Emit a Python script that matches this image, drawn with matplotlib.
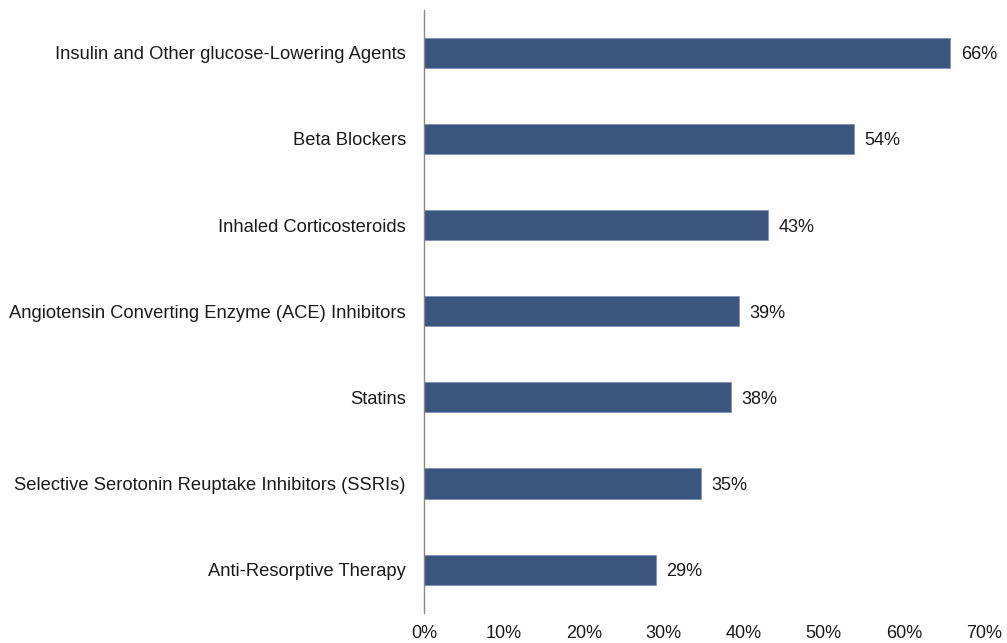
import matplotlib.pyplot as plt
from matplotlib.ticker import FuncFormatter

plt.rcParams['font.family'] = ['Liberation Sans', 'DejaVu Sans']

categories = ["Insulin and Other glucose-Lowering Agents",
              "Beta Blockers",
              "Inhaled Corticosteroids",
              "Angiotensin Converting Enzyme (ACE) Inhibitors",
              "Statins",
              "Selective Serotonin Reuptake Inhibitors (SSRIs)",
              "Anti-Resorptive Therapy"]
values = [65.8, 53.8, 43.0, 39.4, 38.4, 34.6, 29.0]
value_labels = ["66%", "54%", "43%", "39%", "38%", "35%", "29%"]
x_ticks = [0, 10, 20, 30, 40, 50, 60, 70]

fig = plt.figure(figsize=(10.07, 6.43), dpi=100)
ax = fig.add_axes([0.421, 0.047, 0.556, 0.938])

y = range(len(categories))
ax.barh(y, values, height=0.35, color='#3A557E', edgecolor='#7F93B5', linewidth=0.6)
for yi, v, lab in zip(y, values, value_labels):
    ax.text(v + 1.3, yi, lab, va='center_baseline', ha='left', fontsize=13, color='#1a1a1a')

ax.set_yticks(list(y))
ax.set_yticklabels(categories, fontsize=13.2, color='#1a1a1a')
ax.set_ylim(len(categories) - 0.5, -0.5)
ax.set_xlim(0, 70)
ax.set_xticks(x_ticks)
ax.xaxis.set_major_formatter(FuncFormatter(lambda v, p: f"{v:.0f}%"))
ax.tick_params(axis='x', length=0, labelsize=13, pad=9, colors='#1a1a1a')
ax.tick_params(axis='y', length=0, pad=13)

for s in ['top', 'right', 'bottom']:
    ax.spines[s].set_visible(False)
ax.spines['left'].set_color('#888888')
ax.spines['left'].set_linewidth(1.0)

fig.savefig('out.png', dpi=100)
